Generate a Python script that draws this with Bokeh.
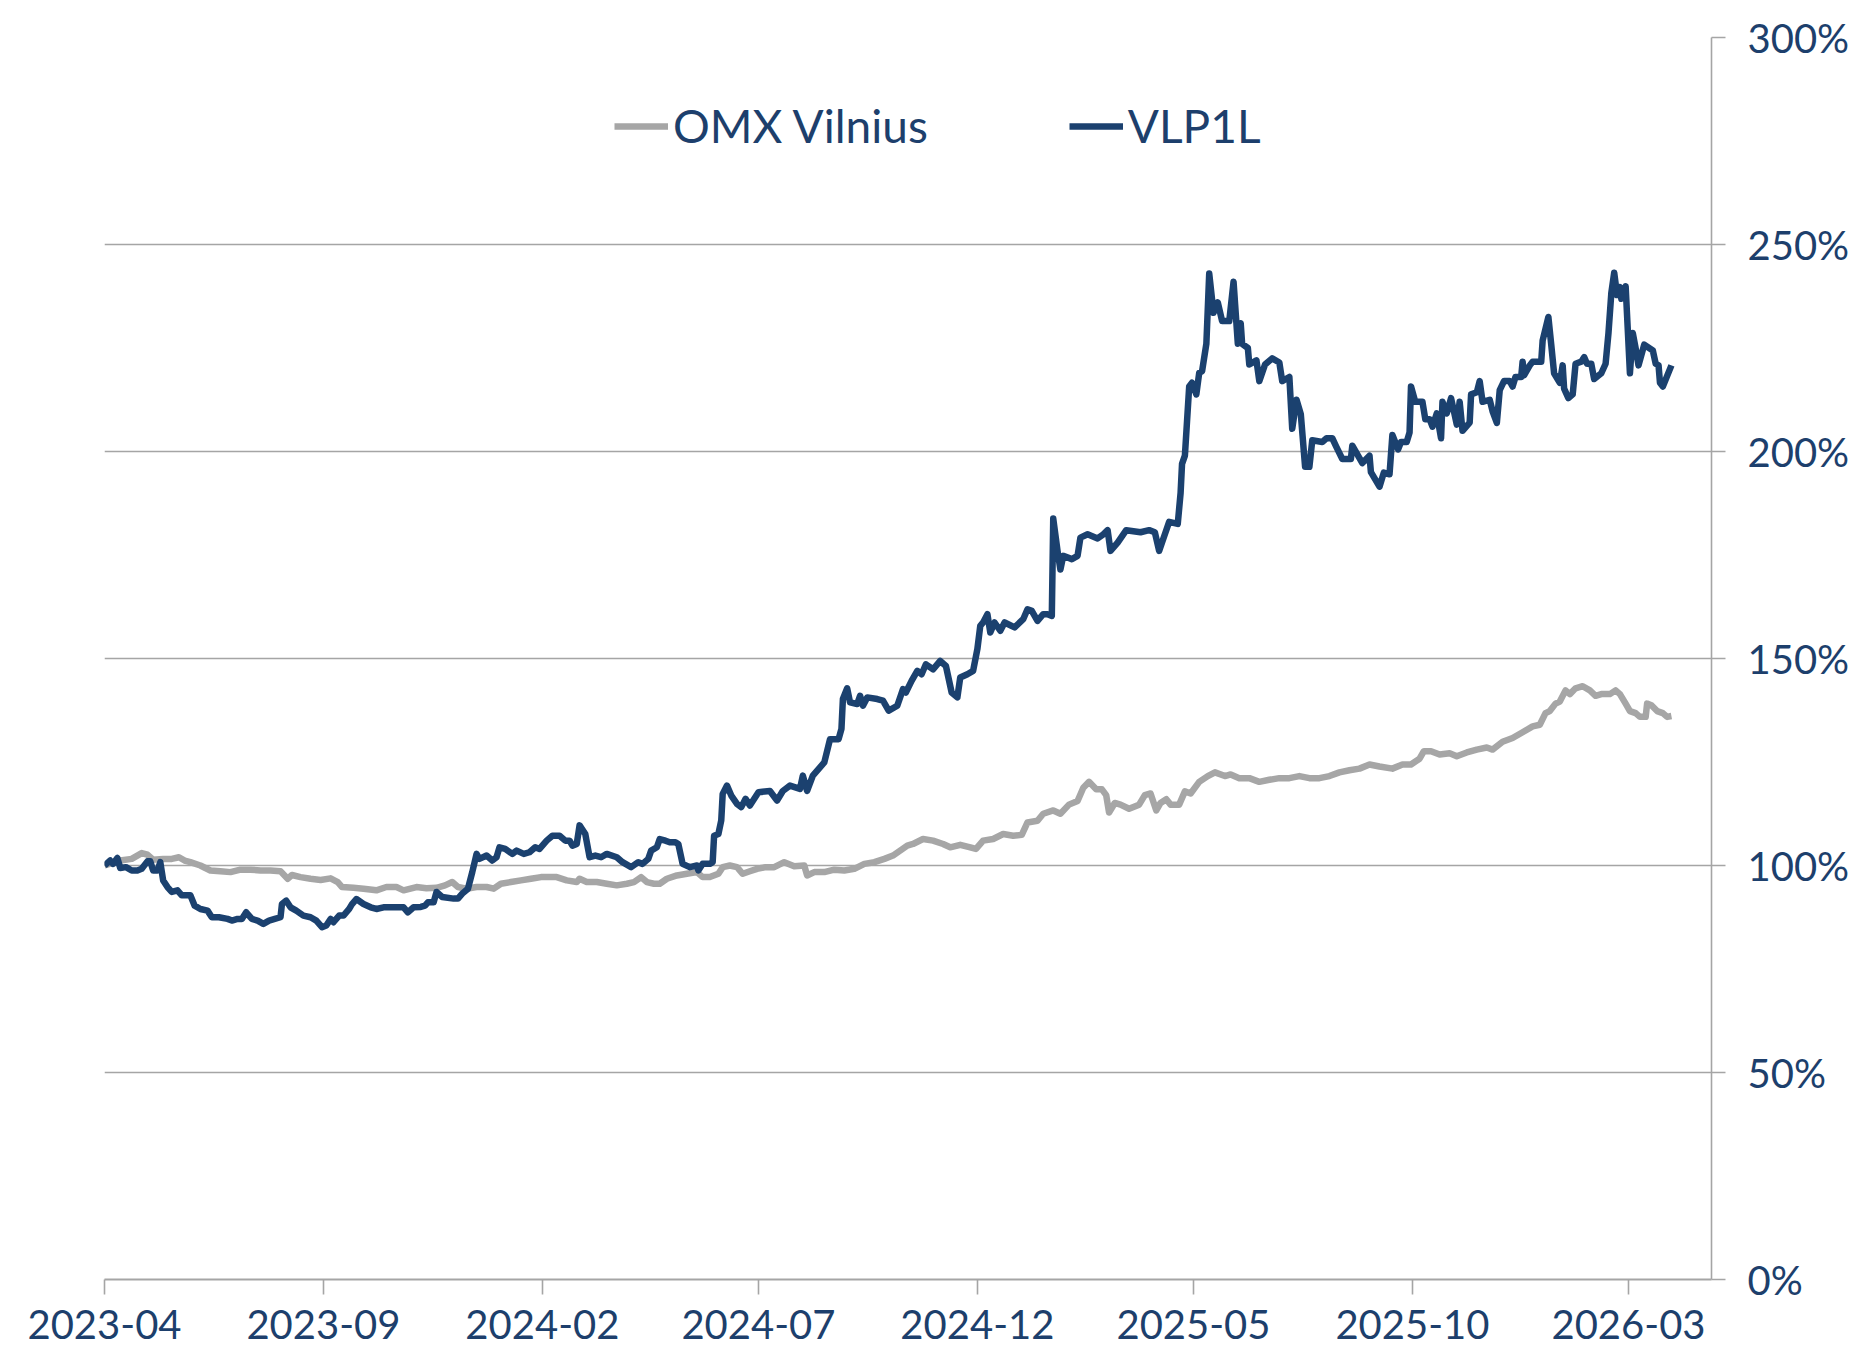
import pandas as pd
from bokeh.plotting import figure
from bokeh.models import (Range1d, FixedTicker, DatetimeTickFormatter,
                          PrintfTickFormatter, Legend, LegendItem)
from bokeh.embed import file_html
from bokeh.resources import INLINE

# ---------------- data (days since 2023-04-01, index level %) ----------------
start_date = "2023-04-01"
end_date = "2026-04-28"

vlp_days = [
    0, 4, 6, 9, 11, 15, 19, 23, 26, 30,
    32, 34, 37, 39, 41, 44, 47, 51, 54, 60,
    63, 67, 72, 75, 80, 86, 89, 93, 96, 99,
    103, 107, 111, 115, 119, 123, 124, 127, 130, 134,
    139, 144, 148, 152, 155, 158, 160, 164, 167, 171,
    173, 176, 181, 186, 190, 195, 200, 204, 209, 212,
    216, 221, 224, 226, 230, 232, 236, 244, 247, 250,
    254, 257, 260, 262, 267, 271, 274, 276, 280, 285,
    288, 293, 297, 301, 304, 309, 313, 318, 322, 325,
    327, 330, 332, 336, 339, 343, 347, 351, 358, 362,
    368, 373, 376, 380, 382, 386, 388, 392, 395, 399,
    401, 404, 409, 414, 415, 418, 423, 425, 426, 429,
    431, 432, 435, 438, 442, 445, 448, 451, 457, 465,
    470, 474, 479, 486, 488, 491, 495, 500, 503, 507,
    513, 515, 516, 519, 521, 526, 528, 530, 533, 540,
    544, 548, 554, 558, 560, 564, 568, 571, 574, 579,
    584, 588, 592, 596, 598, 603, 607, 610, 612, 614,
    617, 619, 622, 626, 629, 636, 642, 645, 648, 652,
    656, 659, 662, 663, 666, 668, 670, 676, 680, 682,
    687, 694, 698, 701, 703, 708, 714, 724, 730, 734,
    737, 741, 744, 750, 752, 753, 755, 758, 760, 763,
    765, 767, 770, 772, 775, 778, 781, 786, 789, 792,
    794, 795, 799, 800, 805, 807, 811, 816, 821, 823,
    828, 830, 833, 836, 839, 842, 844, 851, 854, 858,
    861, 865, 871, 872, 879, 884, 885, 891, 894, 898,
    900, 904, 906, 910, 912, 913, 916, 921, 923, 926,
    928, 931, 934, 935, 938, 941, 945, 947, 949, 954,
    955, 959, 961, 963, 968, 970, 973, 975, 978, 982,
    984, 986, 990, 991, 992, 996, 998, 1004, 1005, 1009,
    1011, 1013, 1017, 1019, 1020, 1023, 1026, 1028, 1032, 1034,
    1036, 1039, 1041, 1046, 1049, 1051, 1053, 1055, 1057, 1059,
    1060, 1063, 1066, 1068, 1070, 1072, 1076, 1082, 1084, 1086,
    1087, 1089, 1095,
]
vlp_values = [
    100, 101.2, 100.4, 101.8, 99.4, 99.6, 98.8, 98.8, 99.2, 101,
    101, 98.8, 98.8, 100.8, 96.4, 94.8, 93.6, 94, 92.8, 92.8,
    90.3, 89.5, 89.1, 87.5, 87.5, 87.1, 86.7, 87.1, 87.1, 88.7,
    87.1, 86.7, 85.9, 86.7, 87.1, 87.5, 90.7, 91.5, 89.9, 89.1,
    87.9, 87.5, 86.7, 85.1, 85.5, 87.1, 86.3, 87.9, 87.9, 89.5,
    90.7, 91.9, 90.7, 89.9, 89.5, 89.9, 89.9, 89.9, 89.9, 88.7,
    89.9, 90, 90.3, 91.1, 91.1, 93.6, 92.4, 92, 92, 93.2,
    94.4, 98.4, 102.8, 101.6, 102.4, 101.2, 102, 104.4, 104, 102.8,
    103.6, 102.8, 103.2, 104.4, 104, 106, 107.2, 107.2, 106, 106,
    104.8, 105.2, 109.7, 107.6, 102, 102.4, 102, 102.8, 102, 100.8,
    99.6, 100.8, 100.4, 101.6, 103.6, 104.4, 106.4, 106, 105.6, 105.6,
    105.2, 100.4, 99.6, 100, 98.8, 100.4, 100.4, 100.8, 107.2, 107.6,
    110.9, 117.3, 119.3, 116.9, 114.9, 114.1, 116.1, 114.5, 117.7, 118,
    115.7, 118, 119.3, 118.5, 121.7, 118, 121.7, 123.7, 124.9, 130.5,
    130.5, 133, 140.2, 142.8, 139.4, 139, 141, 138.6, 140.6, 140.2,
    139.8, 137.4, 138.6, 142.6, 141.8, 144.6, 147, 146.2, 148.6, 147.4,
    149.4, 148.2, 141.8, 140.6, 145.4, 146.2, 147, 152.3, 157.9, 158.7,
    160.7, 156.3, 158.7, 156.7, 158.7, 157.5, 159.5, 161.9, 161.5, 159.1,
    160.7, 160.7, 160.3, 183.8, 176, 171.5, 174.8, 174, 174.8, 179.2,
    180, 179, 180, 181, 176, 178, 181, 180.5, 181, 180.5,
    176, 180, 183, 182.5, 190, 197, 199, 215.7, 216.6, 213.8,
    219, 219.4, 226, 243, 233.5, 236, 231.5, 231.5, 241, 226,
    231, 226, 225, 221, 222, 217, 221, 222.5, 221.5, 217,
    218, 205.5, 212.5, 209, 196.3, 196.3, 202.7, 202.3, 203.2, 203.2,
    201, 198.2, 198.2, 201.4, 197.2, 199, 195, 191.5, 194.9, 194.5,
    204, 200.5, 202.3, 202.3, 204.6, 215.7, 212, 212, 207.8, 207.8,
    206, 209.2, 203.2, 212, 209.2, 212.9, 206.5, 212, 205, 207,
    213.8, 214.3, 217, 212, 212.5, 209.7, 206.9, 214.8, 217, 217,
    215.7, 218, 218, 221.7, 218.4, 220.8, 221.7, 221.7, 226.8, 232.5,
    225.8, 218.9, 216.6, 220.8, 215.2, 212.9, 213.8, 221.2, 221.7, 222.8,
    221.2, 221.2, 217.5, 218.9, 221.2, 228.6, 238.3, 243.2, 237.8, 239.7,
    236.9, 239.9, 218.9, 228.6, 224.9, 220.8, 225.8, 224.4, 221.2, 220.8,
    216.6, 215.7, 220.8,
]

omx_days = [
    0, 11, 19, 26, 30, 34, 41, 47, 52, 56,
    60, 67, 74, 81, 88, 95, 102, 109, 116, 123,
    128, 131, 137, 144, 151, 158, 163, 166, 174, 181,
    190, 197, 204, 209, 218, 225, 232, 238, 243, 247,
    253, 260, 267, 272, 277, 284, 291, 298, 305, 312,
    316, 323, 330, 332, 337, 344, 351, 358, 365, 370,
    375, 379, 384, 388, 393, 400, 407, 414, 418, 423,
    429, 432, 437, 442, 446, 451, 456, 462, 468, 475,
    482, 489, 491, 496, 503, 510, 517, 524, 531, 538,
    545, 551, 556, 561, 565, 572, 579, 586, 591, 598,
    605, 609, 614, 621, 628, 635, 641, 645, 652, 656,
    663, 668, 674, 680, 684, 688, 693, 697, 700, 702,
    706, 710, 716, 723, 727, 731, 735, 738, 742, 745,
    751, 755, 759, 765, 771, 776, 783, 787, 793, 800,
    807, 814, 821, 828, 835, 842, 849, 856, 863, 870,
    877, 884, 891, 900, 907, 913, 919, 922, 927, 933,
    940, 945, 952, 959, 966, 970, 977, 984, 991, 998,
    1003, 1007, 1010, 1014, 1017, 1021, 1024, 1028, 1033, 1038,
    1042, 1046, 1052, 1056, 1059, 1063, 1066, 1070, 1073, 1077,
    1078, 1081, 1085, 1089, 1092, 1095,
]
omx_values = [
    100, 101.2, 101.6, 103, 102.6, 101.4, 101.6, 101.6, 102, 101.2,
    100.8, 100, 98.8, 98.6, 98.4, 99, 99, 98.8, 98.8, 98.6,
    96.8, 97.7, 97.2, 96.8, 96.5, 96.9, 96, 94.8, 94.6, 94.4,
    94, 94.8, 94.8, 94, 94.8, 94.5, 94.6, 95.2, 96, 94.8,
    94.4, 94.8, 94.8, 94.4, 95.6, 96, 96.4, 96.8, 97.2, 97.2,
    97.2, 96.4, 96, 96.8, 96, 96, 95.6, 95.2, 95.6, 96,
    97.2, 96, 95.6, 95.6, 96.8, 97.6, 98, 98.4, 97.2, 97.2,
    98, 99.6, 100, 99.6, 98, 98.6, 99.2, 99.6, 99.6, 100.8,
    99.8, 100, 97.6, 98.4, 98.4, 99, 98.8, 99.2, 100.4, 100.8,
    101.6, 102.4, 103.6, 104.8, 105.2, 106.4, 106, 105.2, 104.4, 105,
    104.4, 104, 106, 106.4, 107.6, 107.2, 107.4, 110.4, 110.8, 112.5,
    113.3, 112.5, 114.7, 115.6, 118.8, 120.2, 118.4, 118.4, 117, 112.8,
    115.1, 114.7, 113.7, 114.7, 117, 117.4, 113.3, 115.1, 116, 114.7,
    114.7, 117.9, 117.4, 120.2, 121.6, 122.5, 121.6, 122, 121.1, 121.1,
    120.2, 120.7, 121.1, 121.1, 121.6, 121.1, 121.1, 121.6, 122.5, 123,
    123.4, 124.4, 123.9, 123.4, 124.4, 124.4, 125.8, 127.6, 127.6, 126.8,
    127.1, 126.4, 127.3, 128, 128.5, 128, 129.9, 130.8, 132.2, 133.6,
    134, 136.8, 137.3, 139.1, 139.6, 142.3, 141.4, 142.8, 143.3, 142.3,
    141, 141.4, 141.4, 142.3, 141.4, 139.1, 137.3, 136.8, 135.9, 135.9,
    139.1, 138.7, 137.3, 136.8, 135.9, 136.1,
]

series_names = ["OMX Vilnius", "VLP1L"]
x_tick_dates = ["2023-04-01", "2023-09-01", "2024-02-01", "2024-07-01",
                "2024-12-01", "2025-05-01", "2025-10-01", "2026-03-01"]
y_ticks = [0, 50, 100, 150, 200, 250, 300]

assert len(vlp_days) == len(vlp_values)
assert len(omx_days) == len(omx_values)

# ---------------- styling ----------------
NAVY = "#1b416f"
TEXT = "#1d3f6c"
GRAY_LINE = "#a6a6a6"
GRID = "#a5a5a5"
FONT = "Lato"

start = pd.Timestamp(start_date)
vlp_dates = start + pd.to_timedelta(vlp_days, unit="D")
omx_dates = start + pd.to_timedelta(omx_days, unit="D")

p = figure(width=1852, height=1349, x_axis_type="datetime", y_axis_location="right",
           x_range=Range1d(start, pd.Timestamp(end_date)), y_range=Range1d(0, 300),
           output_backend="svg", toolbar_location=None,
           min_border_left=104, min_border_right=137, min_border_top=37, min_border_bottom=70)

p.outline_line_color = None
p.background_fill_color = "white"
p.border_fill_color = "white"
p.xgrid.visible = False
p.ygrid.grid_line_color = GRID
p.ygrid.grid_line_width = 1.6

# x axis
xt = [pd.Timestamp(d).value // 10**6 for d in x_tick_dates]
p.xaxis.ticker = FixedTicker(ticks=xt)
p.xaxis.formatter = DatetimeTickFormatter(days="%Y-%m", months="%Y-%m", years="%Y-%m")
p.xaxis.axis_line_color = GRID
p.xaxis.axis_line_width = 2
p.xaxis.major_tick_line_color = GRID
p.xaxis.major_tick_line_width = 1.6
p.xaxis.major_tick_out = 15
p.xaxis.major_tick_in = 0
p.xaxis.minor_tick_out = 0
p.xaxis.minor_tick_in = 0
p.xaxis.major_label_standoff = 15
p.xaxis.major_label_text_line_height = 0.7
p.xaxis.major_label_text_font = FONT
p.xaxis.major_label_text_font_size = "40px"
p.xaxis.major_label_text_color = TEXT

# y axis (right)
p.yaxis.ticker = FixedTicker(ticks=y_ticks)
p.yaxis.formatter = PrintfTickFormatter(format="%d%%")
p.yaxis.axis_line_color = GRID
p.yaxis.axis_line_width = 1.6
p.yaxis.major_tick_line_color = GRID
p.yaxis.major_tick_line_width = 1.6
p.yaxis.major_tick_out = 14
p.yaxis.major_tick_in = 0
p.yaxis.minor_tick_out = 0
p.yaxis.minor_tick_in = 0
p.yaxis.major_label_standoff = 22
p.yaxis.major_label_text_font = FONT
p.yaxis.major_label_text_font_size = "40px"
p.yaxis.major_label_text_color = TEXT

r_omx = p.line(omx_dates, omx_values, line_color=GRAY_LINE, line_width=6.5, line_join="round")
r_vlp = p.line(vlp_dates, vlp_values, line_color=NAVY, line_width=6.5, line_join="round")

legend = Legend(items=[LegendItem(label=series_names[0], renderers=[r_omx]),
                       LegendItem(label=series_names[1], renderers=[r_vlp])],
                orientation="horizontal", location=(510, 1126),
                glyph_width=54, glyph_height=40, label_standoff=5, spacing=141,
                padding=0, margin=0, border_line_color=None, background_fill_alpha=0,
                label_text_font=FONT, label_text_font_size="46px", label_text_color=TEXT)
p.add_layout(legend)

open("out.html", "w").write(file_html(p, INLINE))
